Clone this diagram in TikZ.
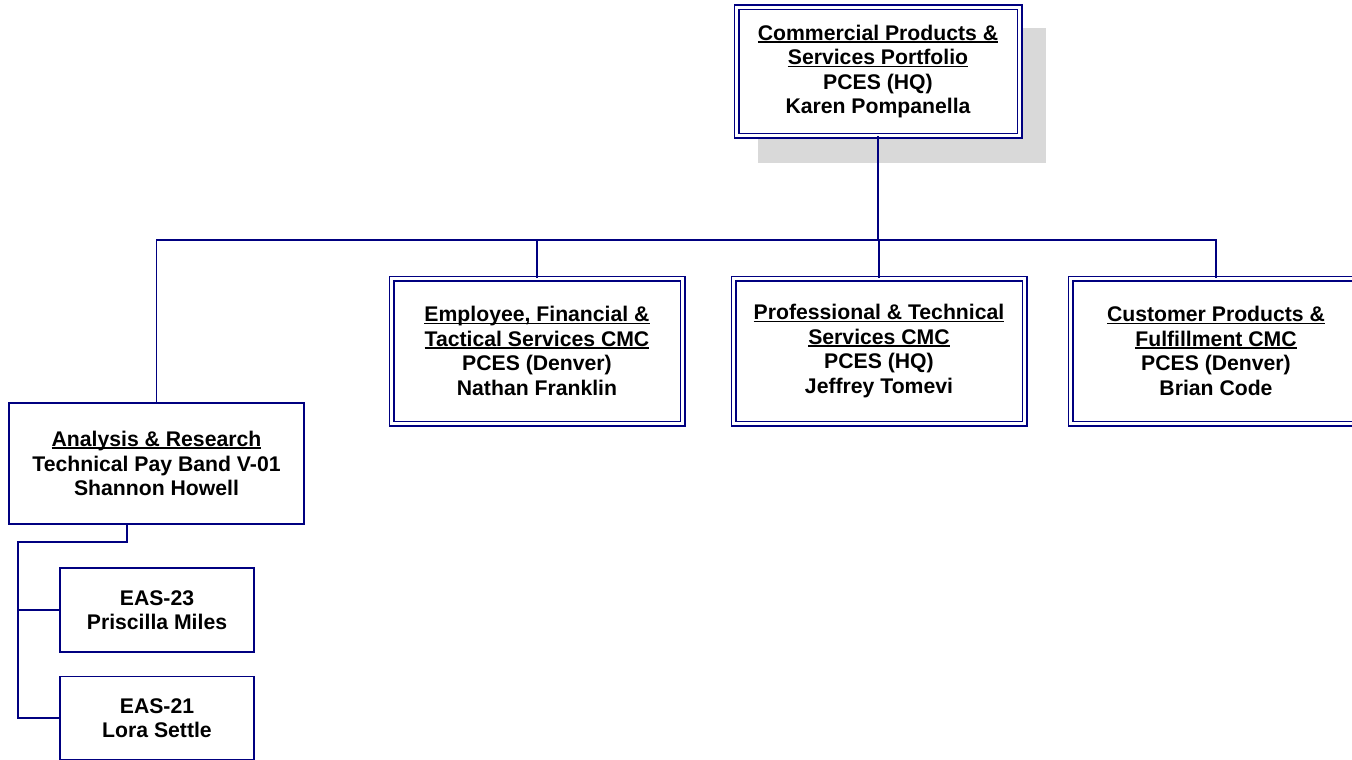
\documentclass[tikz,border=0pt]{standalone}
\usepackage{fontspec}
\setmainfont{Liberation Sans}
\usetikzlibrary{calc}
\definecolor{navyline}{RGB}{0,0,128}
\definecolor{shadowgray}{RGB}{217,217,217}
\newcommand\ulx[1]{\setbox0\hbox{#1}\rlap{\rule[-2.4pt]{\wd0}{1.5pt}}\box0}
\tikzset{
  box/.style={draw=navyline, line width=1.8pt, fill=white, inner sep=0pt, align=center,
    font=\fontsize{21.2}{24.5}\selectfont\bfseries},
  dbox/.style={box, double=white, double distance=2.6pt, line width=1.7pt},
  conn/.style={draw=navyline, line width=1.8pt},
}
\begin{document}
\begin{tikzpicture}[x=1pt,y=-1pt]
\useasboundingbox (0,0) rectangle (1352,760);
% shadow of top box
\fill[shadowgray] (758,28) rectangle (1046,163);
% nodes
\node[dbox, minimum width=283pt, minimum height=128pt] (top) at (878,71.5)
  {\ulx{Commercial Products \&}\\\ulx{Services Portfolio}\\PCES (HQ)\\Karen Pompanella};
\node[dbox, minimum width=291pt, minimum height=145pt] (emp) at (537,351)
  {\ulx{Employee, Financial \&}\\\ulx{Tactical Services CMC}\\PCES (Denver)\\Nathan Franklin};
\node[dbox, minimum width=291pt, minimum height=145pt] (prof) at (879,351)
  {\ulx{Professional \& Technical}\\\ulx{Services CMC}\\PCES (HQ)\\Jeffrey Tomevi};
\node[dbox, minimum width=291pt, minimum height=145pt] (cust) at (1216,351)
  {\ulx{Customer Products \&}\\\ulx{Fulfillment CMC}\\PCES (Denver)\\Brian Code};
\node[box, minimum width=295pt, minimum height=121pt] (ana) at (156.5,463.5)
  {\ulx{Analysis \& Research}\\Technical Pay Band V-01\\Shannon Howell};
\node[box, minimum width=194pt, minimum height=84pt] (e23) at (157,610)
  {EAS-23\\Priscilla Miles};
\node[box, minimum width=194pt, minimum height=83pt] (e21) at (157,718)
  {EAS-21\\Lora Settle};
% connectors
\coordinate (bus) at (0,240);
\coordinate (a1) at (127,524);
\coordinate (j1) at (18,542);
\draw[conn] (top.south) -- (top.south |- bus);
\draw[conn] (ana.north) -- (ana.north |- bus) -- (cust.north |- bus) -- (cust.north);
\draw[conn] (emp.north) -- (emp.north |- bus);
\draw[conn] (prof.north) -- (prof.north |- bus);
\draw[conn] (a1) |- (j1) |- (e23.west);
\draw[conn] (j1) |- (e21.west);
\end{tikzpicture}
\end{document}
